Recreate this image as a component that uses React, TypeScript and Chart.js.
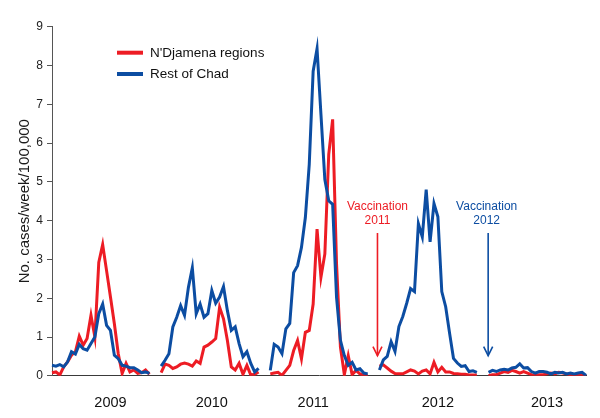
import React, { useEffect, useRef } from 'react';
import { Chart, registerables } from 'chart.js';

Chart.register(...registerables);

// ---- Data ----
const seasons = ['2009', '2010', '2011', '2012', '2013'];
const weeksPerSeason = 26;
const gapWeeks = 2;
// week (0-based) within each season under which the year label is printed
const yearLabelWeek = [15, 13, 11, 15, 15];

const ndjamena2009 = [0.08, 0.1, 0.02, 0.23, 0.36, 0.53, 0.62, 1.02, 0.79, 0.96, 1.56, 1.0, 2.92, 3.38, 2.71, 2.03, 1.34, 0.57, 0.06, 0.32, 0.1, 0.15, 0.06, 0.08, 0.15, 0.04];
const ndjamena2010 = [0.08, 0.3, 0.27, 0.19, 0.23, 0.3, 0.33, 0.3, 0.25, 0.38, 0.32, 0.74, 0.79, 0.87, 0.96, 1.77, 1.47, 0.91, 0.23, 0.15, 0.32, 0.04, 0.27, 0.02, 0.04, 0.1];
const ndjamena2011 = [0.05, 0.07, 0.09, 0.01, 0.14, 0.27, 0.65, 0.91, 0.44, 1.12, 1.17, 1.85, 3.78, 2.54, 3.14, 5.71, 6.61, 2.88, 0.74, 0.03, 0.52, 0.03, 0.14, 0.05, 0.01, 0.01];
const ndjamena2012 = [0.25, 0.28, 0.2, 0.12, 0.06, 0.05, 0.05, 0.1, 0.15, 0.12, 0.05, 0.12, 0.15, 0.05, 0.35, 0.1, 0.22, 0.1, 0.1, 0.06, 0.05, 0.04, 0.04, 0.02, 0.02, 0.02];
const ndjamena2013 = [0.0, 0.03, 0.03, 0.07, 0.11, 0.09, 0.14, 0.11, 0.07, 0.11, 0.07, 0.03, 0.0, 0.03, 0.03, 0.05, 0.07, 0.05, 0.09, 0.07, 0.05, 0.03, 0.03, 0.03, 0.03, 0.0];

const restOfChad2009 = [0.27, 0.25, 0.29, 0.23, 0.36, 0.62, 0.56, 0.81, 0.7, 0.66, 0.83, 1.0, 1.6, 1.85, 1.3, 1.17, 0.53, 0.44, 0.27, 0.25, 0.21, 0.21, 0.15, 0.08, 0.1, 0.06];
const restOfChad2010 = [0.25, 0.4, 0.57, 1.26, 1.51, 1.81, 1.56, 2.28, 2.78, 1.6, 1.85, 1.51, 1.6, 2.2, 1.87, 2.03, 2.3, 1.68, 1.17, 1.26, 0.83, 0.49, 0.62, 0.32, 0.1, 0.19];
const restOfChad2011 = [0.14, 0.81, 0.74, 0.57, 1.21, 1.35, 2.66, 2.84, 3.31, 4.08, 5.45, 7.85, 8.43, 6.74, 5.06, 4.51, 4.42, 2.02, 0.91, 0.52, 0.27, 0.35, 0.15, 0.18, 0.07, 0.05];
const restOfChad2012 = [0.15, 0.41, 0.5, 0.88, 0.63, 1.27, 1.53, 1.87, 2.25, 2.17, 3.92, 3.58, 4.8, 3.45, 4.44, 4.1, 2.17, 1.78, 1.1, 0.45, 0.33, 0.24, 0.26, 0.11, 0.13, 0.09];
const restOfChad2013 = [0.09, 0.14, 0.11, 0.15, 0.17, 0.15, 0.2, 0.22, 0.31, 0.2, 0.21, 0.11, 0.07, 0.11, 0.11, 0.09, 0.05, 0.09, 0.07, 0.09, 0.05, 0.07, 0.05, 0.07, 0.09, 0.01];

const ndjamenaSeasons = [ndjamena2009, ndjamena2010, ndjamena2011, ndjamena2012, ndjamena2013];
const restSeasons = [restOfChad2009, restOfChad2010, restOfChad2011, restOfChad2012, restOfChad2013];

const seriesNames = ["N'Djamena regions", 'Rest of Chad'];
const yTicks = [0, 1, 2, 3, 4, 5, 6, 7, 8, 9];
const yTitle = 'No. cases/week/100,000';

// vaccination campaigns: [text lines], anchored after the season index given
const vaccinationLabels = [['Vaccination', '2011'], ['Vaccination', '2012']];
const vaccinationBeforeSeason = [3, 4]; // arrow sits just before this season's first week
const vaccinationOffset = [-0.5, -0.1];

const RED = '#ED1C24';
const BLUE = '#0C4DA2';
const FONT = '"Liberation Sans", Arial, Helvetica, sans-serif';

// ---- build series ----
const labels: string[] = [];
const redData: (number | null)[] = [];
const blueData: (number | null)[] = [];
const yearTickAt: Record<number, string> = {};
const seasonStart: number[] = [];
seasons.forEach((yr, s) => {
  if (s > 0) {
    for (let g = 0; g < gapWeeks; g++) {
      labels.push('');
      redData.push(null);
      blueData.push(null);
    }
  }
  seasonStart.push(labels.length);
  for (let w = 0; w < weeksPerSeason; w++) {
    if (w === yearLabelWeek[s]) yearTickAt[labels.length] = yr;
    labels.push(`${yr} wk ${w + 1}`);
    redData.push(ndjamenaSeasons[s][w]);
    blueData.push(restSeasons[s][w]);
  }
});

const overlayPlugin = {
  id: 'overlay',
  afterDraw(chart: any) {
    const ctx = chart.ctx as CanvasRenderingContext2D;
    const area = chart.chartArea;
    const xs = chart.scales.x;
    const ys = chart.scales.y;

    // y axis title
    ctx.save();
    ctx.translate(25, (area.top + area.bottom) / 2);
    ctx.rotate(-Math.PI / 2);
    ctx.font = `15px ${FONT}`;
    ctx.fillStyle = '#1a1a1a';
    ctx.textAlign = 'center';
    ctx.textBaseline = 'middle';
    ctx.fillText(yTitle, 0, 0);
    ctx.restore();

    // legend
    const legendColors = [RED, BLUE];
    const legendY = [52.7, 74];
    ctx.save();
    ctx.font = `13.5px ${FONT}`;
    ctx.textBaseline = 'middle';
    ctx.textAlign = 'left';
    seriesNames.forEach((name, i) => {
      ctx.strokeStyle = legendColors[i];
      ctx.lineWidth = 4;
      ctx.beginPath();
      ctx.moveTo(117, legendY[i]);
      ctx.lineTo(143, legendY[i]);
      ctx.stroke();
      ctx.fillStyle = '#111';
      ctx.fillText(name, 150, legendY[i] + 0.5);
    });
    ctx.restore();

    // vaccination annotations
    const annColors = [RED, BLUE];
    vaccinationLabels.forEach((lines, i) => {
      const idx = seasonStart[vaccinationBeforeSeason[i]] + vaccinationOffset[i];
      const x = xs.getPixelForValue(idx);
      const tip = ys.getPixelForValue(0.52);
      const top = ys.getPixelForValue(3.68);
      ctx.save();
      ctx.fillStyle = annColors[i];
      ctx.strokeStyle = annColors[i];
      ctx.font = `12px ${FONT}`;
      ctx.textAlign = 'center';
      ctx.textBaseline = 'middle';
      ctx.fillText(lines[0], x + (i === 1 ? -1.5 : 0), ys.getPixelForValue(4.35));
      ctx.fillText(lines[1], x + (i === 1 ? -1.5 : 0), ys.getPixelForValue(3.99));
      ctx.lineWidth = 1.6;
      ctx.beginPath();
      ctx.moveTo(x, top);
      ctx.lineTo(x, tip);
      ctx.stroke();
      ctx.beginPath();
      ctx.moveTo(x - 4.5, tip - 9);
      ctx.lineTo(x, tip);
      ctx.lineTo(x + 4.5, tip - 9);
      ctx.stroke();
      ctx.restore();
    });
  },
};

export default function App() {
  const canvasRef = useRef<HTMLCanvasElement | null>(null);

  useEffect(() => {
    if (!canvasRef.current) return;
    const chart = new Chart(canvasRef.current, {
      type: 'line',
      data: {
        labels,
        datasets: [
          {
            label: seriesNames[1],
            data: blueData,
            borderColor: BLUE,
            backgroundColor: BLUE,
            borderWidth: 3,
            pointRadius: 0,
            tension: 0,
            spanGaps: false,
            fill: false,
          },
          {
            label: seriesNames[0],
            data: redData,
            borderColor: RED,
            backgroundColor: RED,
            borderWidth: 3,
            pointRadius: 0,
            tension: 0,
            spanGaps: false,
            fill: false,
          },
        ],
      },
      options: {
        responsive: false,
        animation: false,
        devicePixelRatio: 1,
        layout: { padding: { top: 26.6, right: 14, left: 0, bottom: 0 } },
        plugins: {
          legend: { display: false },
          tooltip: { enabled: false },
          title: { display: false },
        },
        scales: {
          x: {
            type: 'category',
            offset: false,
            grid: { display: false },
            border: { display: true, color: '#3a3a3a', width: 1 },
            ticks: {
              autoSkip: false,
              maxRotation: 0,
              minRotation: 0,
              padding: 10,
              color: '#111',
              font: { family: FONT, size: 14.5 },
              callback: (_v: any, index: number) => yearTickAt[index] ?? '',
            },
            afterFit: (axis: any) => {
              axis.height = 42.2;
            },
          },
          y: {
            min: 0,
            max: 9,
            afterBuildTicks: (axis: any) => {
              axis.ticks = yTicks.map((v) => ({ value: v }));
            },
            grid: {
              display: true,
              drawOnChartArea: false,
              drawTicks: true,
              tickLength: 5,
              color: '#555',
              lineWidth: 1,
            },
            border: { display: true, color: '#555', width: 1 },
            ticks: {
              padding: 4,
              color: '#222',
              font: { family: FONT, size: 12 },
            },
            afterFit: (axis: any) => {
              axis.width = 52;
            },
          },
        },
      },
      plugins: [overlayPlugin],
    });
    return () => chart.destroy();
  }, []);

  return (
    <div style={{ position: 'absolute', left: 0, top: 0, width: 600, height: 418, background: '#fff' }}>
      <canvas ref={canvasRef} width={600} height={418} style={{ display: 'block' }} />
    </div>
  );
}
